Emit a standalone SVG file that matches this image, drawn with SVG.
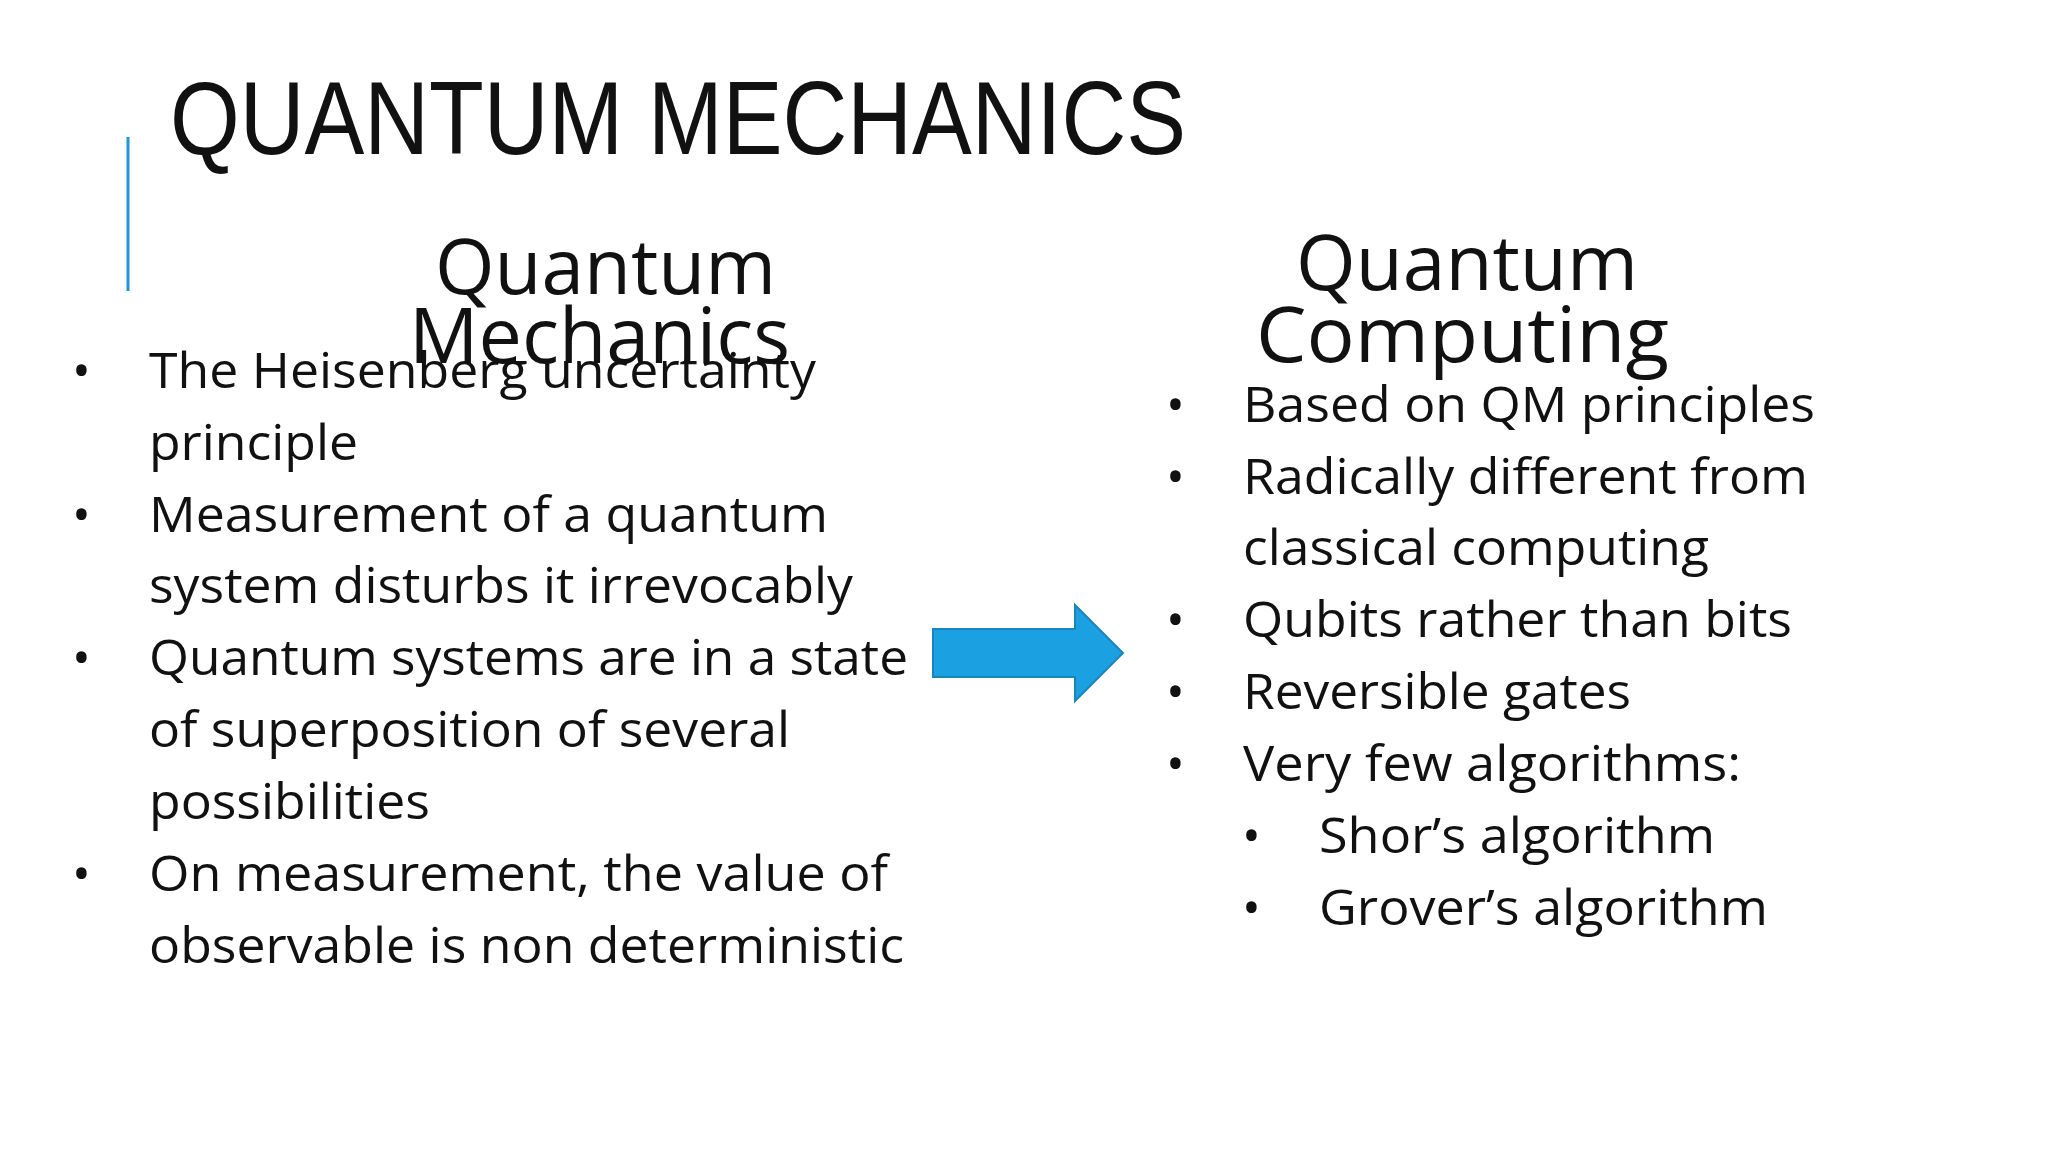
<svg xmlns="http://www.w3.org/2000/svg" width="2048" height="1152" viewBox="0 0 2048 1152">
<style>
.t{font-family:"Open Sans","Liberation Sans",sans-serif;fill:#111}
.b{font-size:50px}
.h{font-size:76px}
</style>
<rect width="2048" height="1152" fill="#fff"/>
<g id="title"><text x="170" y="154" font-family="'Liberation Sans Narrow','Liberation Sans',sans-serif" font-size="104" fill="#111" textLength="1016" lengthAdjust="spacingAndGlyphs">QUANTUM MECHANICS</text>
<line x1="128" y1="137" x2="128" y2="291" stroke="#1a9bd7" stroke-width="3"/></g>
<g id="left">
<text class="t h" x="435" y="294" textLength="341" lengthAdjust="spacingAndGlyphs">Quantum</text>
<text class="t h" x="409" y="363" textLength="381" lengthAdjust="spacingAndGlyphs">Mechanics</text>
<g class="t b">
<text x="72" y="388">•</text><text x="149" y="388" textLength="667" lengthAdjust="spacingAndGlyphs">The Heisenberg uncertainty</text>
<text x="149" y="460" textLength="209" lengthAdjust="spacingAndGlyphs">principle</text>
<text x="72" y="532">•</text><text x="149" y="532" textLength="679" lengthAdjust="spacingAndGlyphs">Measurement of a quantum</text>
<text x="149" y="603" textLength="704" lengthAdjust="spacingAndGlyphs">system disturbs it irrevocably</text>
<text x="72" y="675">•</text><text x="149" y="675" textLength="759" lengthAdjust="spacingAndGlyphs">Quantum systems are in a state</text>
<text x="149" y="747" textLength="641" lengthAdjust="spacingAndGlyphs">of superposition of several</text>
<text x="149" y="819" textLength="281" lengthAdjust="spacingAndGlyphs">possibilities</text>
<text x="72" y="891">•</text><text x="149" y="891" textLength="739" lengthAdjust="spacingAndGlyphs">On measurement, the value of</text>
<text x="149" y="963" textLength="755" lengthAdjust="spacingAndGlyphs">observable is non deterministic</text>
</g></g>
<g id="arrow"><path d="M933 629 H1075 V605 L1123 653 L1075 701 V677 H933 Z" fill="#1ba1e2" stroke="#1a85bb" stroke-width="2"/></g>
<g id="right">
<text class="t h" x="1296" y="290" textLength="342" lengthAdjust="spacingAndGlyphs">Quantum</text>
<text class="t h" x="1256" y="362" textLength="413" lengthAdjust="spacingAndGlyphs">Computing</text>
<g class="t b">
<text x="1166" y="422">•</text><text x="1243" y="422" textLength="572" lengthAdjust="spacingAndGlyphs">Based on QM principles</text>
<text x="1166" y="494">•</text><text x="1243" y="494" textLength="565" lengthAdjust="spacingAndGlyphs">Radically different from</text>
<text x="1243" y="565" textLength="466" lengthAdjust="spacingAndGlyphs">classical computing</text>
<text x="1166" y="637">•</text><text x="1243" y="637" textLength="549" lengthAdjust="spacingAndGlyphs">Qubits rather than bits</text>
<text x="1166" y="709">•</text><text x="1243" y="709" textLength="388" lengthAdjust="spacingAndGlyphs">Reversible gates</text>
<text x="1166" y="781">•</text><text x="1243" y="781" textLength="498" lengthAdjust="spacingAndGlyphs">Very few algorithms:</text>
<text x="1242" y="853">•</text><text x="1319" y="853" textLength="396" lengthAdjust="spacingAndGlyphs">Shor’s algorithm</text>
<text x="1242" y="925">•</text><text x="1319" y="925" textLength="449" lengthAdjust="spacingAndGlyphs">Grover’s algorithm</text>
</g></g>
</svg>
